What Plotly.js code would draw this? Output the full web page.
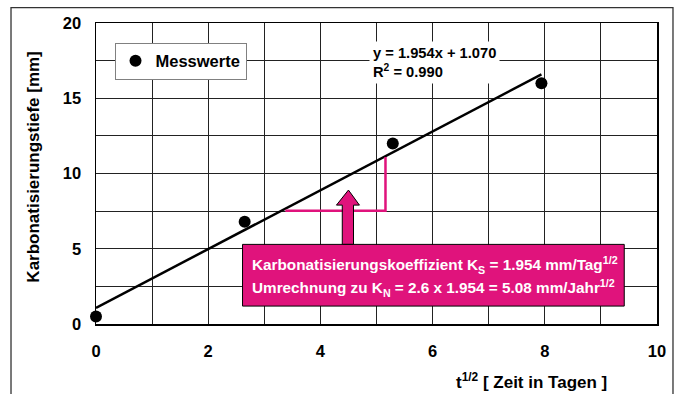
<!DOCTYPE html>
<html><head><meta charset="utf-8">
<script src="https://cdn.plot.ly/plotly-3.0.1.min.js"></script>
<style>html,body{margin:0;padding:0;background:#fff}#chart{width:679px;height:394px}</style>
</head><body><div id="chart"></div>
<script>
// Data
const sqrtDays = [0, 2.65, 5.29, 7.94];
const depthMm = [0.5, 6.8, 12.0, 16.0];
const fitX = [0, 7.94];
const fitY = [1.07, 16.59];
const bracketX = [3.375, 5.16, 5.16];
const bracketY = [7.52, 7.52, 11.1];
const xTicks = [0, 2, 4, 6, 8, 10];
const yTicks = [0, 5, 10, 15, 20];
const seriesName = 'Messwerte';
const eqText = 'y = 1.954x + 1.070<br>R<sup>2</sup> = 0.990';
const boxLine1 = 'Karbonatisierungskoeffizient K<sub>S</sub> = 1.954 mm/Tag<sup>1/2</sup>';
const boxLine2 = 'Umrechnung zu K<sub>N</sub> = 2.6 x 1.954 = 5.08 mm/Jahr<sup>1/2</sup>';
const xTitle = 't<sup>1/2</sup> [ Zeit in Tagen ]';
const yTitle = 'Karbonatisierungstiefe [mm]';

const PINK = '#E0137C';
const FONT = 'Liberation Sans, Arial, sans-serif';

const traces = [
  {x: fitX, y: fitY, mode: 'lines', line: {color: '#000', width: 2.5}, showlegend: false, hoverinfo: 'skip'},
  {x: bracketX, y: bracketY, mode: 'lines', line: {color: PINK, width: 2.5}, showlegend: false, hoverinfo: 'skip'},
  {x: sqrtDays, y: depthMm, mode: 'markers', name: seriesName, marker: {color: '#000', size: 12}, cliponaxis: false}
];

const layout = {
  width: 679, height: 394,
  margin: {l: 96, r: 22, t: 23, b: 70},
  paper_bgcolor: '#fff', plot_bgcolor: '#fff',
  font: {family: FONT, size: 16, color: '#000', weight: 'bold'},
  showlegend: true,
  legend: {x: 0.033, y: 0.935, xanchor: 'left', yanchor: 'top', bgcolor: '#fff', bordercolor: '#808080', borderwidth: 1, font: {size: 16.5, weight: 'bold'}},
  xaxis: {range: [0, 10], tickvals: xTicks, ticks: '', showgrid: true, gridcolor: '#222', gridwidth: 1,
    minor: {dtick: 1, showgrid: true, gridcolor: '#222', gridwidth: 1},
    showline: true, linecolor: '#000', linewidth: 1.5, mirror: true, zeroline: false, ticklabelstandoff: 12,
    tickfont: {size: 16.5, weight: 'bold'}},
  yaxis: {range: [0, 20], tickvals: yTicks, ticks: '', showgrid: true, gridcolor: '#222', gridwidth: 1,
    minor: {dtick: 2.5, showgrid: true, gridcolor: '#222', gridwidth: 1},
    showline: true, linecolor: '#000', linewidth: 1.5, mirror: true, zeroline: false, ticklabelstandoff: 10,
    tickfont: {size: 16.5, weight: 'bold'}},
  shapes: [
    {type: 'rect', xref: 'paper', yref: 'paper', x0: -0.1515, x1: 1.0285, y0: -0.26, y1: 1.0514, line: {color: '#333', width: 1.3}, fillcolor: 'rgba(0,0,0,0)', layer: 'below'},
    {type: 'path', xref: 'x', yref: 'y', path: 'M4.39,5.29 L4.39,7.9 L4.286,7.9 L4.5,8.9 L4.696,7.9 L4.59,7.9 L4.59,5.29 Z', fillcolor: PINK, line: {color: '#000', width: 1}},
    {type: 'rect', xref: 'x', yref: 'y', x0: 2.612, x1: 9.416, y0: 1.19, y1: 5.29, fillcolor: PINK, line: {color: '#000', width: 1}}
  ],
  annotations: [
    {text: eqText, xref: 'x', yref: 'y', x: 4.86, y: 17.4, xanchor: 'left', yanchor: 'middle', align: 'left', showarrow: false, bgcolor: '#fff', borderpad: 3, font: {size: 14.7, weight: 'bold'}},
    {text: boxLine1, xref: 'x', yref: 'y', x: 2.74, y: 3.95, xanchor: 'left', yanchor: 'middle', showarrow: false, font: {size: 15.3, color: '#fff', weight: 'bold'}},
    {text: boxLine2, xref: 'x', yref: 'y', x: 2.74, y: 2.42, xanchor: 'left', yanchor: 'middle', showarrow: false, font: {size: 15.3, color: '#fff', weight: 'bold'}},
    {text: xTitle, xref: 'paper', yref: 'paper', x: 0.777, y: -0.189, xanchor: 'center', yanchor: 'middle', showarrow: false, font: {size: 17, weight: 'bold'}},
    {text: yTitle, xref: 'paper', yref: 'paper', x: -0.112, y: 0.52, xanchor: 'center', yanchor: 'middle', textangle: -90, showarrow: false, font: {size: 17, weight: 'bold'}}
  ]
};

Plotly.newPlot('chart', traces, layout, {staticPlot: true, displayModeBar: false});
</script>
</body></html>
